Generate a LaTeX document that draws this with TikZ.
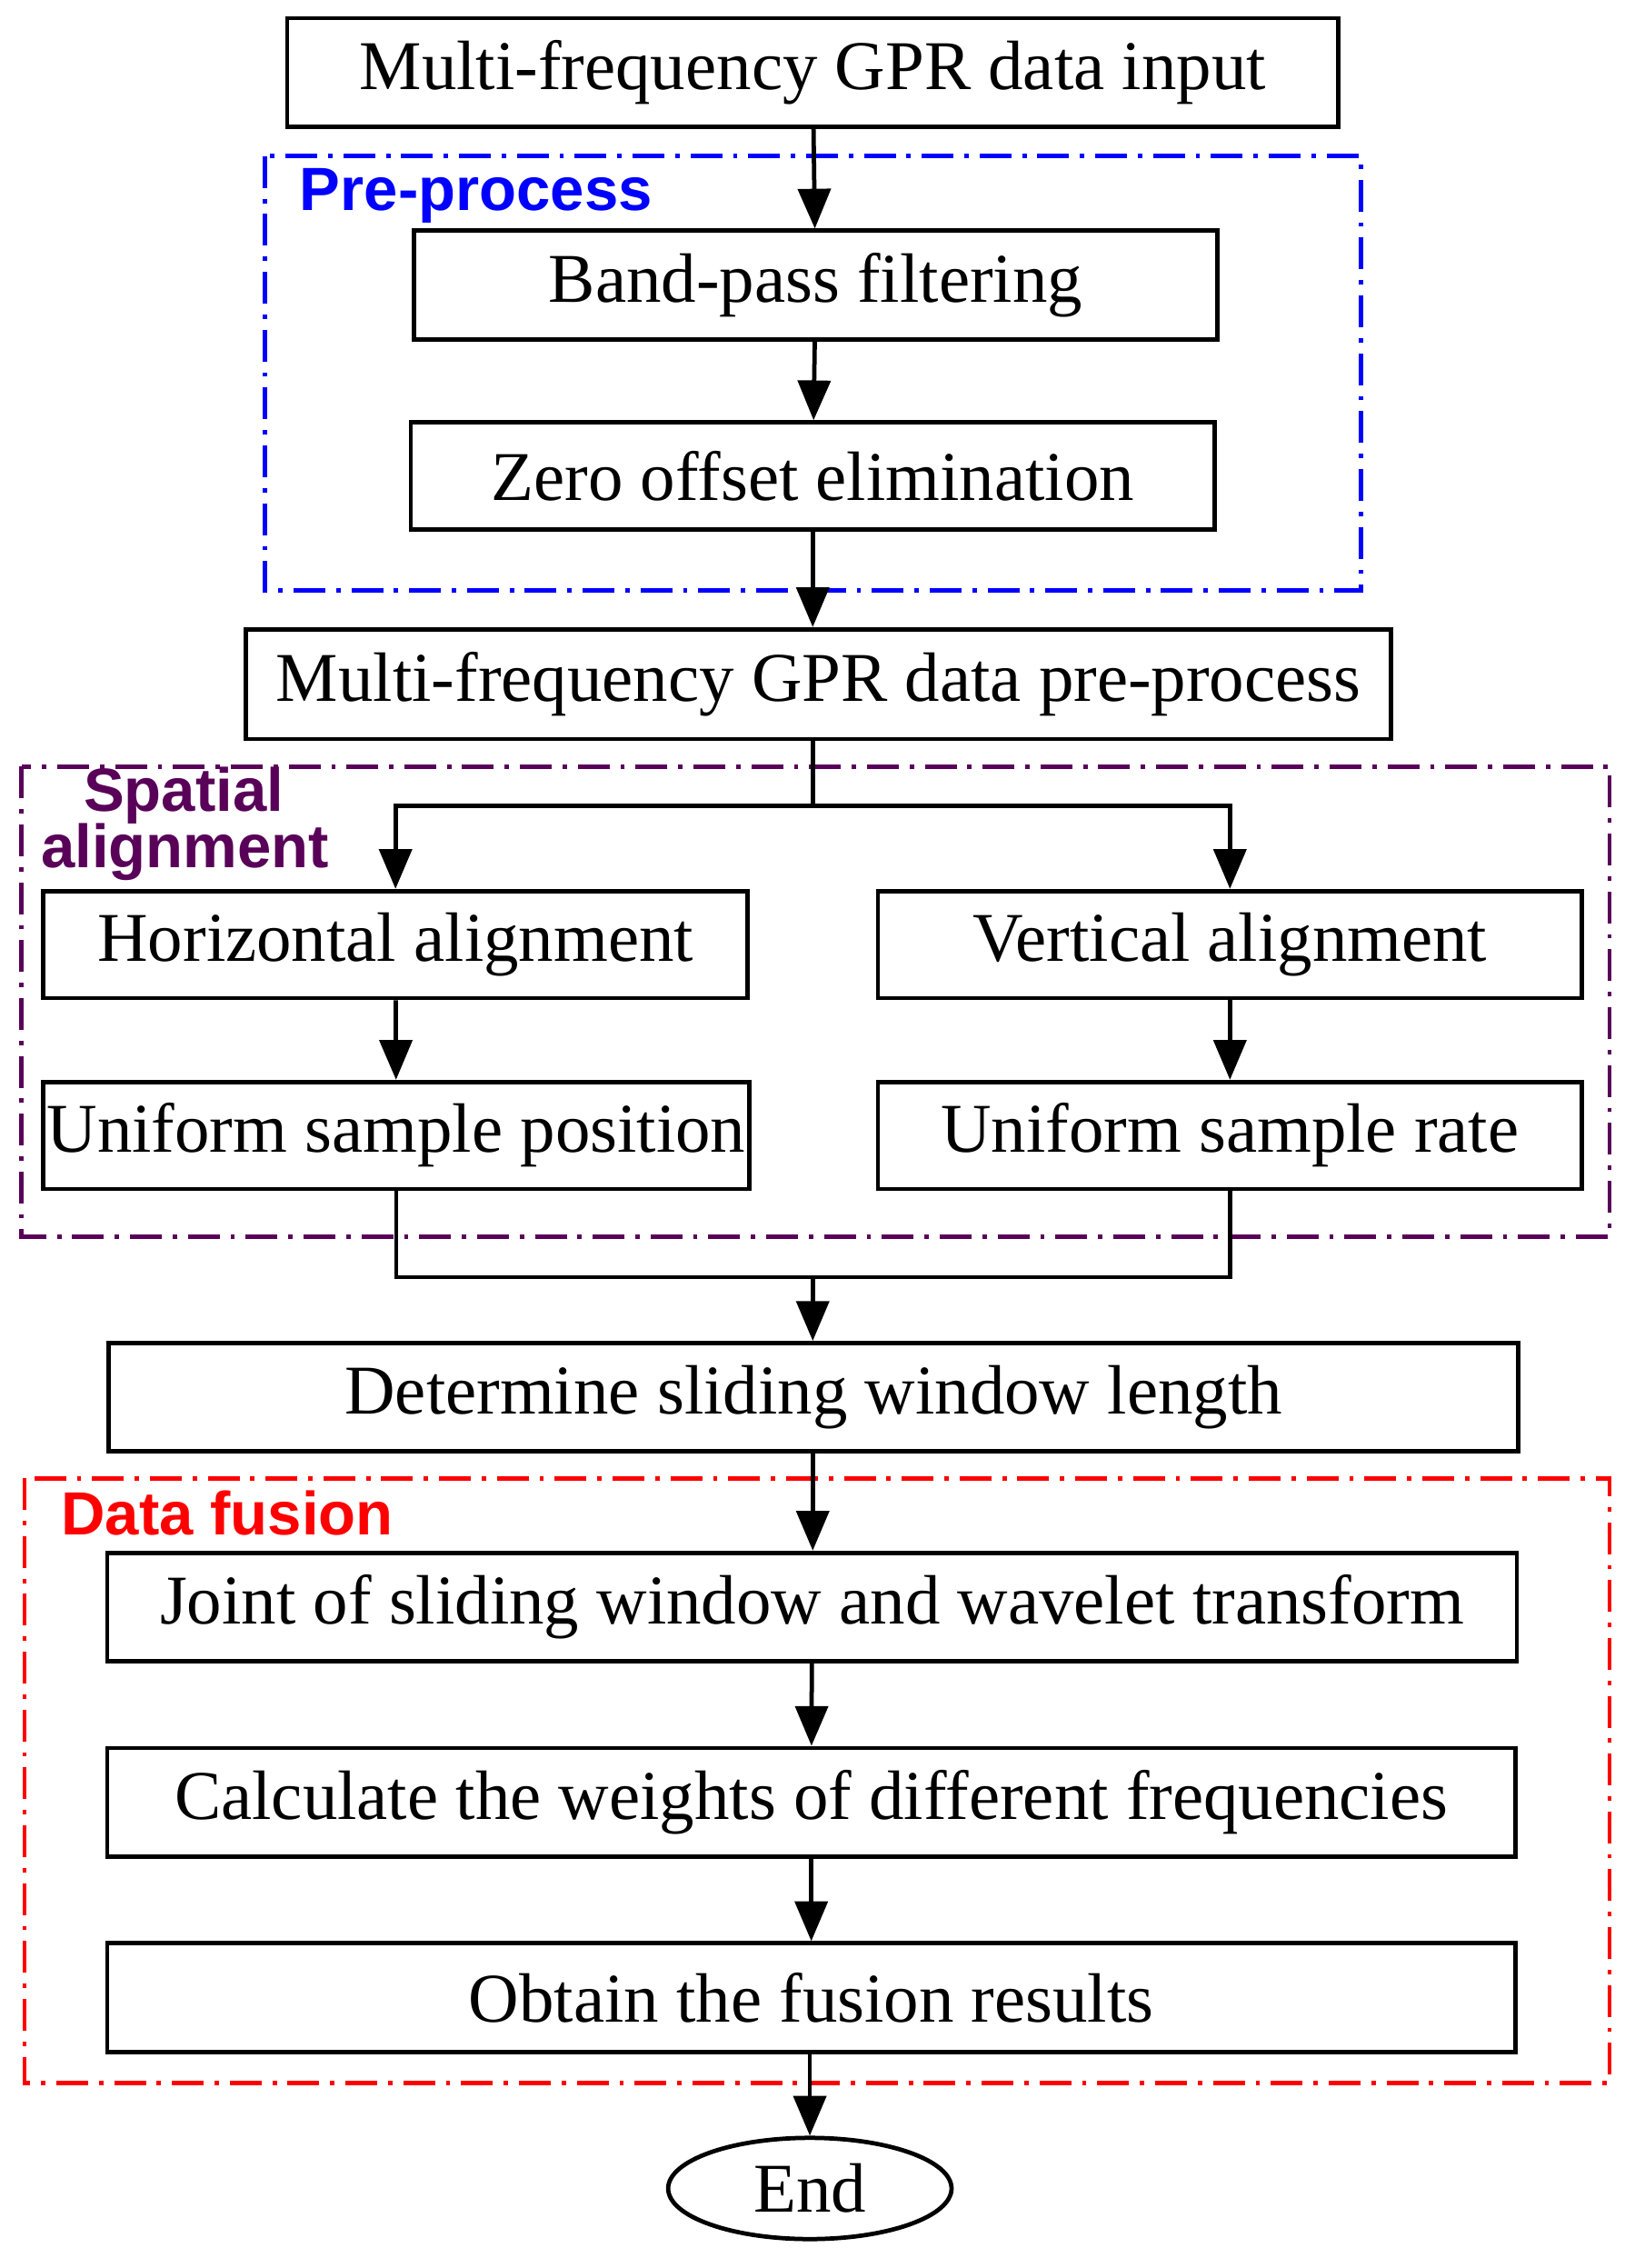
\documentclass[tikz,border=0pt]{standalone}
\usepackage{fontspec}
\setmainfont{Liberation Serif}
\newfontfamily\lsans{Liberation Sans}
\usetikzlibrary{arrows.meta,shapes.geometric}
\begin{document}
\begin{tikzpicture}[x=0.02cm,y=-0.02cm,
 box/.style={draw,line width=1.7pt,inner sep=0pt,font=\fontsize{27.5}{30}\selectfont},
 arr/.style={line width=1.7pt,-{Triangle[length=0.55cm,width=0.45cm]}},
 ln/.style={line width=1.7pt},
 grp/.style={line width=1.7pt,dash pattern=on 0.44cm off 0.15cm on 0.06cm off 0.15cm},
 lab/.style={font=\lsans\bfseries\fontsize{24}{26}\selectfont,anchor=north west,inner sep=0pt,align=left}]
\useasboundingbox (0,0) rectangle (1130,1568);
\node[box,minimum width=14.54cm,minimum height=1.5cm] (in) at (562,50) {Multi-frequency GPR data input};
\node[box,minimum width=11.12cm,minimum height=1.5cm] (bp) at (564,197) {Band-pass filtering};
\node[box,minimum width=11.12cm,minimum height=1.48cm] (zo) at (562,329) {Zero offset elimination};
\node[box,minimum width=15.84cm,minimum height=1.52cm] (pp) at (566,473) {Multi-frequency GPR data pre-process};
\node[box,minimum width=9.74cm,minimum height=1.48cm] (ha) at (273.5,653) {Horizontal alignment};
\node[box,minimum width=9.74cm,minimum height=1.48cm] (va) at (850.5,653) {Vertical alignment};
\node[box,minimum width=9.76cm,minimum height=1.48cm] (up) at (274,785) {Uniform sample position};
\node[box,minimum width=9.74cm,minimum height=1.48cm] (ur) at (850.5,785) {Uniform sample rate};
\node[box,minimum width=19.5cm,minimum height=1.5cm] (dw) at (562.5,966) {Determine sliding window length};
\node[box,minimum width=19.5cm,minimum height=1.5cm] (jw) at (561.5,1111) {Joint of sliding window and wavelet transform};
\node[box,minimum width=19.48cm,minimum height=1.5cm] (cw) at (561,1246) {Calculate the weights of different frequencies};
\node[box,minimum width=19.48cm,minimum height=1.5cm] (ob) at (561,1381) {Obtain the fusion results};
\node[draw,ellipse,line width=1.7pt,minimum width=3.92cm,minimum height=1.4cm,inner sep=0pt,font=\fontsize{27.5}{30}\selectfont] (end) at (560,1513) {End};
% groups
\draw[grp,blue] (183,108) rectangle (941,408);
\node[lab,blue] (l1) at (207,116) {Pre-process};
\draw[grp,violet!70!black] (15,530) rectangle (1113,855);
\node[lab,violet!70!black] (l2) at (28,530) {\hspace*{0.7em}Spatial\\[-4pt]alignment};
\draw[grp,red] (17,1022) rectangle (1113,1440);
\node[lab,red] (l3) at (42,1030) {Data fusion};
% connectors
\draw[arr] (in) -- (bp);
\draw[arr] (bp) -- (zo);
\draw[arr] (zo) -- (pp.north -| zo);
\coordinate (s) at (562,557);
\draw[ln] (pp.south -| s) -- (s);
\draw[arr] (s) -| (ha);
\draw[arr] (s) -| (va);
\draw[arr] (ha) -- (up);
\draw[arr] (va) -- (ur);
\coordinate (m) at (562,883);
\draw[ln] (up) |- (m);
\draw[ln] (ur) |- (m);
\draw[arr] (m) -- (dw.north -| m);
\draw[arr] (dw.south -| m) -- (jw.north -| m);
\draw[arr] (jw) -- (cw);
\draw[arr] (cw) -- (ob);
\draw[arr] (ob.south -| end) -- (end);
\end{tikzpicture}
\end{document}
